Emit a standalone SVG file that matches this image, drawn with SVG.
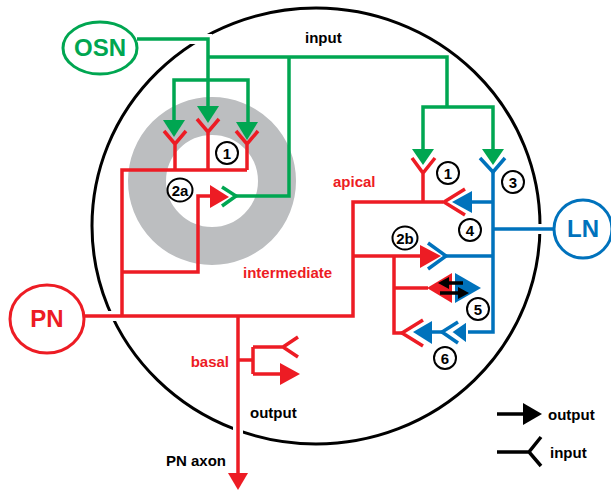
<svg xmlns="http://www.w3.org/2000/svg" width="611" height="491" viewBox="0 0 611 491">
<style>
text{font-family:"Liberation Sans",Arial,sans-serif;font-weight:bold}
.g{stroke:#00a651;fill:none;stroke-width:3.5}
.r{stroke:#ed1c24;fill:none;stroke-width:3.5}
.b{stroke:#0072bc;fill:none;stroke-width:3.5}
.k{stroke:#000;fill:none;stroke-width:3.5}
.gf{fill:#00a651}
.rf{fill:#ed1c24}
.bf{fill:#0072bc}
.kf{fill:#000}
.halo{stroke:#fff;stroke-width:10;fill:none}
.num{fill:#fff;stroke:#000;stroke-width:2}
.nt{font-size:15px;fill:#000;text-anchor:middle}
.lbl{font-size:15px}
.red{fill:#ed1c24}
</style>
<rect width="611" height="491" fill="#fff"/>
<g id="glomerulus">
<ellipse cx="316" cy="226" rx="224" ry="218" fill="none" stroke="#000" stroke-width="3"/>
<circle cx="212" cy="181" r="65" fill="none" stroke="#bcbec0" stroke-width="38"/>
</g>
<g id="halos">
<path class="halo" d="M188,39 H212"/>
<path class="halo" d="M530,229 H550"/>
<path class="halo" d="M100,316 H122"/>
<path class="halo" d="M238,420 V440"/>
</g>
<g id="connectors">
<!-- green OSN input -->
<path class="g" d="M137,39 H208 V107"/>
<path class="g" d="M208,57 H447 V107"/>
<path class="g" d="M174,121 V80 H248 V123"/>
<path class="g" d="M289,57 V196 H236"/>
<path class="g" d="M423,150 V107 H493 V150"/>
<polygon class="gf" points="163,120 185,120 174,137"/>
<polygon class="gf" points="197,106 219,106 208,123"/>
<polygon class="gf" points="236,122 258,122 247,140"/>
<polygon class="gf" points="412,149 434,149 423,165"/>
<polygon class="gf" points="482,149 504,149 493,165"/>
<path class="g" d="M222,187 L236,196 L222,206"/>
<!-- red PN -->
<path class="r" d="M85,316 H353 V202 H443"/>
<path class="r" d="M122,316 V170 H247"/>
<path class="r" d="M175,170 V144 M164,131 L175,144 L186,131"/>
<path class="r" d="M208,170 V132 M197,119 L208,132 L219,119"/>
<path class="r" d="M247,170 V144 M236,131 L247,144 L258,131"/>
<path class="r" d="M122,272 H198 V196 H211"/>
<polygon class="rf" points="210,185 210,208 229,197"/>
<path class="r" d="M423,202 V173 M412,158 L423,173 L435,158"/>
<path class="r" d="M465,189 L444,202 L465,215"/>
<path class="r" d="M353,256 H421"/>
<polygon class="rf" points="420,245 420,268 441,256"/>
<path class="r" d="M394,256 V333 H403"/>
<path class="r" d="M394,288 H428"/>
<polygon class="rf" points="427,288 452,273 452,303"/>
<path class="r" d="M423,320 L402,333 L423,346"/>
<path class="r" d="M238,316 V475"/>
<polygon class="rf" points="228,473 248,473 238,490"/>
<path class="r" d="M238,360 H253 M253,347 V374 M253,347 H284 M298,337 L283,347 L298,357 M253,374 H282"/>
<polygon class="rf" points="280,363 280,385 300,374"/>
<!-- blue LN -->
<path class="b" d="M493,172 V332 H467"/>
<path class="b" d="M480,158 L493,172 L505,158"/>
<path class="b" d="M493,202 H471"/>
<polygon class="bf" points="452,202 472,191 472,213"/>
<path class="b" d="M493,229 H553"/>
<path class="b" d="M446,256 H493"/>
<path class="b" d="M428,243 L446,256 L428,269"/>
<polygon class="bf" points="455,273 455,303 481,288"/>
<path class="b" d="M431,332 H444"/>
<path class="b" d="M458,322 L442,332 L458,343"/>
<polygon class="bf" points="451,332 467,321 467,344" stroke="#fff" stroke-width="2"/>
<polygon class="bf" points="413,332 432,321 432,344"/>
<!-- black double arrows at 5 -->
<path class="k" d="M463,283 H447 M440,293 H458" stroke-width="3"/>
<polygon class="kf" points="438,283 449,277 449,289"/>
<polygon class="kf" points="469,293 458,287 458,299"/>
</g>
<g id="OSN">
<ellipse cx="100" cy="48" rx="37" ry="26" fill="#fff" stroke="#00a651" stroke-width="3"/>
<text x="100" y="56" font-size="24" fill="#00a651" text-anchor="middle">OSN</text>
</g>
<g id="PN">
<ellipse cx="47" cy="319" rx="37" ry="34" fill="#fff" stroke="#ed1c24" stroke-width="3"/>
<text x="47" y="327" font-size="24" fill="#ed1c24" text-anchor="middle">PN</text>
</g>
<g id="LN">
<circle cx="583" cy="229" r="29" fill="#fff" stroke="#0072bc" stroke-width="3"/>
<text x="583" y="237" font-size="24" fill="#0072bc" text-anchor="middle">LN</text>
</g>
<g id="labels">
<circle class="num" cx="227" cy="153" r="11"/><text class="nt" x="227" y="158.5">1</text>
<ellipse class="num" cx="180" cy="190" rx="12.5" ry="11.5"/><text class="nt" x="180" y="195.5">2a</text>
<circle class="num" cx="448" cy="173" r="11"/><text class="nt" x="448" y="178.5">1</text>
<circle class="num" cx="513" cy="182" r="11"/><text class="nt" x="513" y="187.5">3</text>
<circle class="num" cx="470" cy="230" r="11"/><text class="nt" x="470" y="235.5">4</text>
<ellipse class="num" cx="405" cy="238" rx="12.5" ry="11.5"/><text class="nt" x="405" y="243.5">2b</text>
<circle class="num" cx="478" cy="309" r="11"/><text class="nt" x="478" y="314.5">5</text>
<circle class="num" cx="445" cy="358" r="11"/><text class="nt" x="445" y="363.5">6</text>
<text class="lbl" x="305" y="43" fill="#000">input</text>
<text class="lbl red" x="333" y="187">apical</text>
<text class="lbl red" x="243" y="278">intermediate</text>
<text class="lbl red" x="229" y="367" text-anchor="end">basal</text>
<text class="lbl" x="250" y="418" fill="#000">output</text>
<text class="lbl" x="166" y="466" fill="#000">PN axon</text>
</g>
<g id="legend">
<path class="k" d="M497,414 H525"/>
<polygon class="kf" points="523,403 523,425 542,414"/>
<text class="lbl" x="548" y="420" fill="#000">output</text>
<path class="k" d="M497,452 H529 M541,437 L529,452 L541,466"/>
<text class="lbl" x="550" y="458" fill="#000">input</text>
</g>
</svg>
